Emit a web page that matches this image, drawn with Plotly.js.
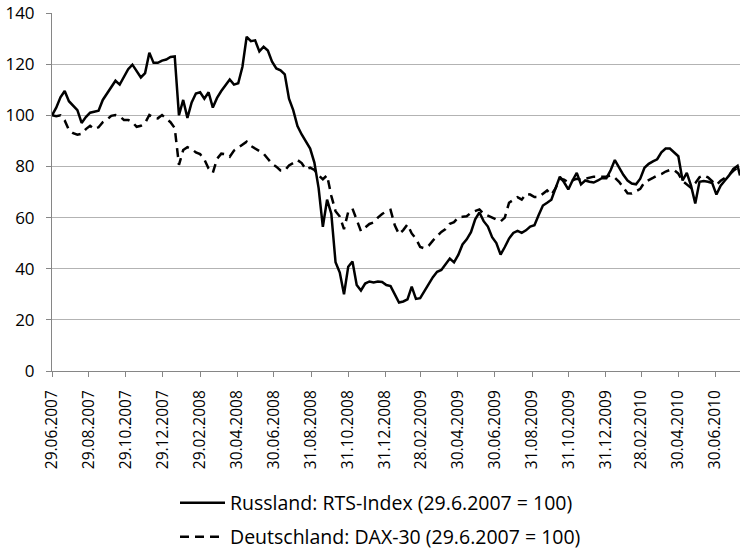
<!DOCTYPE html>
<html><head><meta charset="utf-8">
<script src="https://cdn.plot.ly/plotly-3.0.1.min.js"></script>
<style>body{margin:0;background:#fff}#chart{width:742px;height:550px}</style>
</head><body><div id="chart"></div>
<script>
const dates = [
'2007-06-29','2007-07-06','2007-07-13','2007-07-20','2007-07-27','2007-08-03','2007-08-10','2007-08-17','2007-08-24','2007-08-31',
'2007-09-07','2007-09-14','2007-09-21','2007-09-28','2007-10-05','2007-10-12','2007-10-19','2007-10-26','2007-11-02','2007-11-09',
'2007-11-16','2007-11-23','2007-11-30','2007-12-07','2007-12-14','2007-12-21','2007-12-28',
'2008-01-04','2008-01-11','2008-01-18','2008-01-25','2008-02-01','2008-02-08','2008-02-15','2008-02-22','2008-02-29','2008-03-07',
'2008-03-14','2008-03-21','2008-03-28','2008-04-04','2008-04-11','2008-04-18','2008-04-25','2008-05-02','2008-05-09','2008-05-16',
'2008-05-23','2008-05-30','2008-06-06','2008-06-13','2008-06-20','2008-06-27','2008-07-04','2008-07-11','2008-07-18','2008-07-25',
'2008-08-01','2008-08-08','2008-08-15','2008-08-22','2008-08-29','2008-09-05','2008-09-12','2008-09-19','2008-09-26','2008-10-03',
'2008-10-10','2008-10-17','2008-10-24','2008-10-31','2008-11-07','2008-11-14','2008-11-21','2008-11-28','2008-12-05','2008-12-12',
'2008-12-19','2008-12-26',
'2009-01-02','2009-01-09','2009-01-16','2009-01-23','2009-01-30','2009-02-06','2009-02-13','2009-02-20','2009-02-27','2009-03-06',
'2009-03-13','2009-03-20','2009-03-27','2009-04-03','2009-04-10','2009-04-17','2009-04-24','2009-05-01','2009-05-08','2009-05-15',
'2009-05-22','2009-05-29','2009-06-05','2009-06-12','2009-06-19','2009-06-26','2009-07-03','2009-07-10','2009-07-17','2009-07-24',
'2009-07-31','2009-08-07','2009-08-14','2009-08-21','2009-08-28','2009-09-04','2009-09-11','2009-09-18','2009-09-25','2009-10-02',
'2009-10-09','2009-10-16','2009-10-23','2009-10-30','2009-11-06','2009-11-13','2009-11-20','2009-11-27','2009-12-04','2009-12-11',
'2009-12-18','2009-12-25',
'2010-01-01','2010-01-08','2010-01-15','2010-01-22','2010-01-29','2010-02-05','2010-02-12','2010-02-19','2010-02-26','2010-03-05',
'2010-03-12','2010-03-19','2010-03-26','2010-04-02','2010-04-09','2010-04-16','2010-04-23','2010-04-30','2010-05-07','2010-05-14',
'2010-05-21','2010-05-28','2010-06-04','2010-06-11','2010-06-18','2010-06-25','2010-07-02','2010-07-09','2010-07-16','2010-07-23',
'2010-07-30','2010-08-06','2010-08-10'
];

const rts = [
100,103,107,109.5,105.5,103.7,102,97,99.3,101,
101.3,101.8,106,108.5,111,113.5,112,115,118,119.8,
117.2,114.8,116.5,124.5,120.5,120.5,121.4,121.8,122.8,123,
100,106,99,105,108.5,109,106.5,109,103,106.8,
109.5,112,114,112,112.5,119,130.7,129,129.3,125,
126.8,125.3,121,118.3,117.6,116,106.5,102,95.8,92.5,
89.6,87,81.5,71.5,56.4,67,61.5,42.5,38.5,30,
40.8,42.8,33.6,31.5,34.2,35,34.6,35,34.8,33.6,
33.2,30.2,26.8,27.2,28,33,28.2,28.5,31,34,
36.7,38.8,39.5,42,44,42.5,45.4,49.5,51.5,54.3,
59.3,62,58.6,56.5,52.3,50,45.5,48.5,51.8,54,
54.8,54,55,56.5,57,61,64.7,65.8,67,71.5,
76,73.8,71,74.5,77.5,73,74.5,74,73.7,74.5,
75.5,75.4,78.5,82.5,79.5,76.7,74.5,73.3,73,75.2,
79.5,81,82,82.8,85.5,87,87,85.3,84,74.5,
77.5,72.5,65.5,74,74.3,74,73.5,69,72.5,74.5,
76.5,79,80.2,76.5
];

const dax = [
100,99.6,100,98,94.2,93,92.4,92.8,94.6,95.9,
94.6,95.3,97.3,98.3,99.8,100.1,99.6,98.2,98.2,97.3,
95.5,95.9,97,100.1,99.1,98.8,100.1,98.7,97.3,95,
80.6,86.4,87.5,86.8,85.5,84.8,82.7,79.2,77.5,83,
85,84.8,83.8,86.2,87.4,88.3,89.7,88,87.1,85.9,
85,83,81,79.9,78.4,78.3,80.4,81.3,82.5,81.3,
78.8,79.5,78.6,76.5,75,76.5,68.5,62.5,60.4,55.5,
62.3,63.5,59,54.7,56.1,57.5,58.1,60,61.4,62.4,
63,57,53.5,55.1,57.3,53.8,51.7,48.5,48,49,
51,52.7,54.4,55.5,57.6,58.2,60.1,60.3,60.5,61.9,
62.6,63.2,61.5,60.7,60,59.3,58.5,60,65.8,66.9,
68,67,69.2,69,68,68,69.3,70.6,68.9,71.5,
75.3,74.8,73.8,74.5,75.2,74.8,75.2,75.7,76,76,
76,76,76.5,75.6,74,71.5,69.5,69.4,70.3,71.2,
73.8,74.5,75.5,76.4,77,78,78.6,78.6,77.2,74.3,
72.8,71.6,73.4,75.8,76.5,75.7,74.2,72.8,74.4,75.6,
76.7,78.3,79.5,78.5
];

const tickDates = ['2007-06-29','2007-08-29','2007-10-29','2007-12-29','2008-02-29','2008-04-30','2008-06-30',
'2008-08-31','2008-10-31','2008-12-31','2009-02-28','2009-04-30','2009-06-30','2009-08-31','2009-10-31',
'2009-12-31','2010-02-28','2010-04-30','2010-06-30'];
const tickLabels = ['29.06.2007','29.08.2007','29.10.2007','29.12.2007','29.02.2008','30.04.2008','30.06.2008',
'31.08.2008','31.10.2008','31.12.2008','28.02.2009','30.04.2009','30.06.2009','31.08.2009','31.10.2009',
'31.12.2009','28.02.2010','30.04.2010','30.06.2010'];
const yTicks = [0,20,40,60,80,100,120,140];
const seriesNames = ['Russland: RTS-Index (29.6.2007 = 100)','Deutschland: DAX-30 (29.6.2007 = 100)'];

const traces = [
  {x: dates, y: rts, name: seriesNames[0], type:'scatter', mode:'lines',
   line:{color:'#000', width:2.5}, legend:'legend'},
  {x: dates, y: dax, name: seriesNames[1], type:'scatter', mode:'lines',
   line:{color:'#000', width:2.5, dash:'9px,6px'}, legend:'legend2'}
];

const legendBase = {xref:'container', yref:'container', xanchor:'left', yanchor:'middle',
  bgcolor:'rgba(0,0,0,0)', borderwidth:0, font:{size:19.5, color:'#000'}, itemwidth:45};

const layout = {
  width:742, height:550,
  margin:{l:52, r:2, t:13, b:179, autoexpand:false},
  paper_bgcolor:'#fff', plot_bgcolor:'#fff',
  font:{family:'"Open Sans", sans-serif', size:17, color:'#000'},
  showlegend:true,
  xaxis:{type:'date', range:['2007-06-29','2010-08-10'], tickmode:'array', tickvals:tickDates, ticktext:tickLabels,
    tickangle:-90, ticks:'outside', ticklen:5, tickcolor:'#868686', showline:true, linecolor:'#868686', linewidth:1,
    showgrid:false, zeroline:false, automargin:false, tickfont:{size:15.5}, ticklabelstandoff:7},
  yaxis:{range:[0,140], tickmode:'array', tickvals:yTicks, ticks:'outside', ticklen:5, tickcolor:'#868686',
    showline:true, linecolor:'#868686', linewidth:1, showgrid:true, gridcolor:'#b3b3b3', gridwidth:1,
    zeroline:false, automargin:false, tickfont:{size:17}, ticklabelstandoff:8},
  legend:Object.assign({}, legendBase, {x:175/742, y:1-503/550}),
  legend2:Object.assign({}, legendBase, {x:175/742, y:1-537/550})
};

Plotly.newPlot('chart', traces, layout, {staticPlot:true, displayModeBar:false});
</script>
</body></html>
